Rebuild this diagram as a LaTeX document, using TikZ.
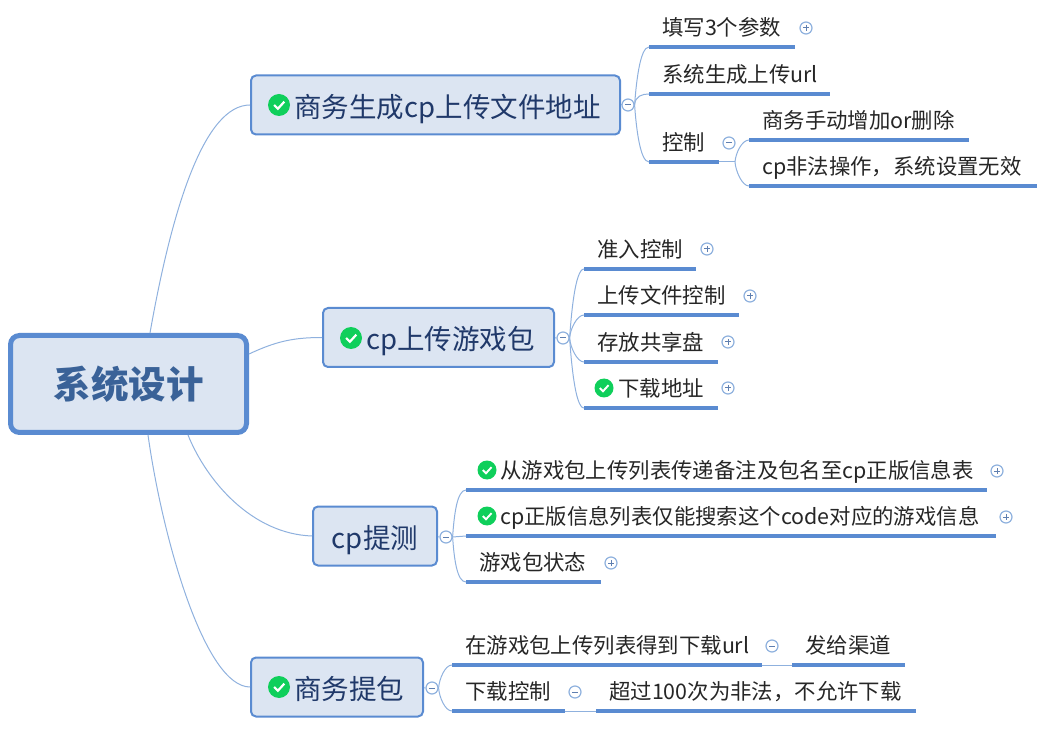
\documentclass[tikz,border=0pt]{standalone}
\usepackage{fontspec}
\setmainfont{Noto Sans CJK SC}
\usetikzlibrary{positioning}
\definecolor{edge}{HTML}{5A8BD1}
\definecolor{twig}{HTML}{8FB1DE}
\definecolor{boxfill}{HTML}{DCE5F2}
\definecolor{okgreen}{HTML}{0FCF5B}
\definecolor{rootink}{HTML}{3A6298}
\definecolor{mainink}{HTML}{20396A}
\definecolor{foldink}{HTML}{5F7FB0}
\tikzset{
    rootbox/.style={draw=edge, fill=boxfill, line width=5pt, rounded corners=9pt, minimum width=236pt, minimum height=97pt, text=rootink, font=\fontsize{37.5}{40}\selectfont\bfseries},
    mainbox/.style={draw=edge, fill=boxfill, line width=2pt, rounded corners=5pt, minimum height=59pt, text height=30pt, text depth=5pt, text=mainink, font=\fontsize{27.5}{30}\selectfont},
    leaf/.style={anchor=south west, inner xsep=13pt, inner ysep=7pt, text depth=4pt, text height=16pt, text width=#1pt, align=left, text=black!85, font=\fontsize{21.4}{24}\selectfont},
    under/.style={draw=edge, line width=3.5pt},
    branch/.style={draw=twig, line width=1pt},
    upper/.style={out=86, in=180, out distance=22pt, in distance=9pt},
    lower/.style={out=-86, in=180, out distance=22pt, in distance=9pt},
    upnear/.style={out=86, in=180, out distance=9pt, in distance=7pt},
    lownear/.style={out=-86, in=180, out distance=9pt, in distance=7pt},
    fold/.style={circle, draw=twig, fill=white, line width=1.2pt, minimum size=12pt, inner sep=0},
    foldminus/.style={fold, path picture={\draw[foldink, line width=1pt, shift={(path picture bounding box.center)}] (-3,0) -- (3,0);}},
    foldplus/.style={fold, path picture={\draw[foldink, line width=1pt, shift={(path picture bounding box.center)}] (-3,0) -- (3,0) (0,-3) -- (0,3);}},
    check/.style={circle, fill=okgreen, minimum size=#1pt, inner sep=0, path picture={\draw[white, line width=.1*#1 pt, shift={(path picture bounding box.center)}, x=#1 pt, y=-#1 pt] (-.22,0) -- (-.05,.17) -- (.24,-.15);}},
}
\begin{document}
\begin{tikzpicture}[x=1pt, y=-1pt]
    \useasboundingbox (0,0) rectangle (1045,735);
    % centre and the four topics
    \node [rootbox] (root) at (128.5,384) {系统设计};
    \node [mainbox, minimum width=369pt] (m1) at (435.5,105) {\hspace*{24pt}商务生成cp上传文件地址};
    \node [mainbox, minimum width=231pt] (m2) at (438.5,337.5) {\hspace*{24pt}cp上传游戏包};
    \node [mainbox, minimum width=124pt] (m3) at (375,536) {cp提测};
    \node [mainbox, minimum width=172pt] (m4) at (337,687) {\hspace*{24pt}商务提包};
    \node [check=22] (m1c) at (279,105) {};
    \node [check=22] (m2c) at (351,338) {};
    \node [check=22] (m4c) at (279,687) {};
    \node [foldminus] (m1f) at (628,105) {};
    \node [foldminus] (m2f) at (563,338) {};
    \node [foldminus] (m3f) at (446,537) {};
    \node [foldminus] (m4f) at (432,688) {};
    % first topic
    \node [leaf=120] (a1) at (649,47) {填写3个参数};
    \node [leaf=155] (a2) at (649,94) {系统生成上传url};
    \node [leaf=44] (a3) at (649,162) {控制};
    \node [leaf=194] (a4) at (749,140) {商务手动增加or删除};
    \node [leaf=262] (a5) at (749,186) {cp非法操作，系统设置无效};
    \node [foldplus] (a1f) at (806,28) {};
    \node [foldminus] (a3f) at (729,143) {};
    \coordinate (a3j) at (735,162);
    % second topic
    \node [leaf=86] (b1) at (584,269) {准入控制};
    \node [leaf=129] (b2) at (584,315) {上传文件控制};
    \node [leaf=108] (b3) at (584,362) {存放共享盘};
    \node [leaf=108] (b4) at (584,408) {\hspace*{21pt}下载地址};
    \node [check=19] (b4c) at (604,388) {};
    \node [foldplus] (b1f) at (707,249) {};
    \node [foldplus] (b2f) at (750,296) {};
    \node [foldplus] (b3f) at (728,342) {};
    \node [foldplus] (b4f) at (728,388) {};
    % third topic
    \node [leaf=495] (c1) at (466,490) {\hspace*{21pt}从游戏包上传列表传递备注及包名至cp正版信息表};
    \node [leaf=504] (c2) at (466,536) {\hspace*{21pt}cp正版信息列表仅能搜索这个code对应的游戏信息};
    \node [leaf=109] (c3) at (466,582) {游戏包状态};
    \node [check=19] (c1c) at (487,470) {};
    \node [check=19] (c2c) at (487,516) {};
    \node [foldplus] (c1f) at (997,471) {};
    \node [foldplus] (c2f) at (1006,517) {};
    \node [foldplus] (c3f) at (611,563) {};
    % fourth topic
    \node [leaf=284] (d1) at (452,665) {在游戏包上传列表得到下载url};
    \node [leaf=87] (d2) at (792,665) {发给渠道};
    \node [leaf=87] (d3) at (452,711) {下载控制};
    \node [leaf=294] (d4) at (596,711) {超过100次为非法，不允许下载};
    \node [foldminus] (d1f) at (772,646) {};
    \node [foldminus] (d3f) at (575,692) {};
    % connectors
    \draw[branch] ([xshift=21.5pt]root.north) to[out=80, in=180, out distance=130pt, in distance=45pt] (m1.west);
    \draw[branch] ([yshift=30pt]root.east) to[out=25, in=180] (m2.west);
    \draw[branch] ([xshift=59.5pt]root.south) to[out=-68, in=178, out distance=50pt, in distance=60pt] (m3.west);
    \draw[branch] ([xshift=19.5pt]root.south) to[out=-82, in=180, out distance=106pt, in distance=45pt] (m4.west);
    \foreach \n in {1,2,3,4} \draw[branch] (m\n) -- (m\n f);
    \foreach \f/\t/\s in {m1f.east/a1/upper, m1f.east/a2/upnear, m1f.east/a3/lower, a3j/a4/upnear, a3j/a5/lownear, m2f.east/b1/upper, m2f.east/b2/upnear, m2f.east/b3/lownear, m2f.east/b4/lower, m3f.east/c1/upper, m3f.east/c3/lower, m4f.east/d1/upnear, m4f.east/d3/lownear}
        \draw[branch] (\f) to[\s] (\t.south west);
    \draw[branch] (m3f.east) -- (c2.south west);
    \draw[branch] (a3.south east) -- (a3j);
    \draw[branch] (d1.south east) -- (d2.south west);
    \draw[branch] (d3.south east) -- (d4.south west);
    \foreach \n in {a1,a2,a3,a4,a5,b1,b2,b3,b4,c1,c2,c3,d1,d2,d3,d4}
        \draw[under] (\n.south west) -- (\n.south east);
\end{tikzpicture}
\end{document}
